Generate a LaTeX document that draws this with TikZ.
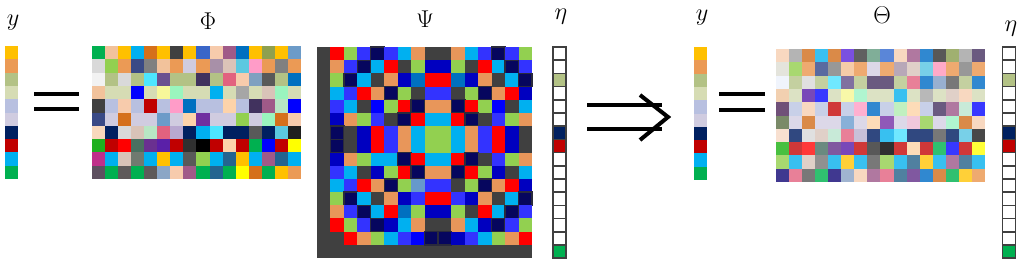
\documentclass[tikz,border=0pt]{standalone}
\usepackage{amsmath, amssymb}
\usepackage{tikz}
\usetikzlibrary{calc}

% colours of the Psi matrix
\definecolor{cR}{HTML}{FF0000}
\definecolor{cG}{HTML}{92D050}
\definecolor{cB}{HTML}{3333FF}
\definecolor{cN}{HTML}{06065E}
\definecolor{cC}{HTML}{00B0F0}
\definecolor{cO}{HTML}{E8965A}
\definecolor{cK}{HTML}{404040}
\definecolor{cD}{HTML}{0000C0}
\definecolor{cM}{HTML}{0070C0}
\definecolor{cP}{HTML}{0000FF}
\definecolor{cS}{HTML}{6699CC}
\definecolor{edge}{HTML}{2A2A3C}

\tikzset{
  psr/.style={fill=cR}, psg/.style={fill=cG}, psb/.style={fill=cB},
  psn/.style={fill=cN, draw=edge, line width=0.04cm},
  psc/.style={fill=cC}, pso/.style={fill=cO}, psk/.style={fill=cK},
  psd/.style={fill=cD}, psm/.style={fill=cM}, psp/.style={fill=cP},
  pss/.style={fill=cS},
  etabox/.style={draw=cK, line width=0.045cm},
  symb/.style={line width=0.12cm},
  lbl/.style={font=\huge}
}

% one row of a matrix: x0, y0, row, hex colours
\newcommand{\hexrow}[4]{%
  \foreach \c [count=\i from 0] in {#4}{
    \definecolor{cc}{HTML}{\c}
    \fill[cc] ({#1+\i*13.06},{#2+#3*13.3}) rectangle ++(13.06,13.3);
  }}
% one row of Psi: row, first column, styles
\newcommand{\psirow}[3]{%
  \foreach \c [count=\i from #2] in {#3}{
    \path[\c] ({317+\i*13.44},{47+#1*13.19}) rectangle ++(13.44,13.19);
  }}

\begin{document}
\begin{tikzpicture}[x=0.03cm, y=-0.03cm]
\useasboundingbox (0,0) rectangle (1024,269);

% labels
\node[lbl] (lbly) at (13,23) {$y$};
\node[lbl] (lblphi) at (208,21) {$\Phi$};
\node[lbl] (lblpsi) at (425,19) {$\Psi$};
\node[lbl] (lbleta) at (561,17) {$\eta$};
\node[lbl] (lbly2) at (702,18) {$y$};
\node[lbl] (lbltheta) at (882,15) {$\Theta$};
\node[lbl] (lbleta2) at (1011,29) {$\eta$};

% y vectors
\foreach \c [count=\r from 0] in {FFC000,EB9A55,B3C285,D6DCB4,B8C0E0,D0CCE0,002060,C00000,00B0F0,00B050}{
  \definecolor{cc}{HTML}{\c}
  \fill[cc] (5,{46+\r*13.3}) rectangle ++(13,13.3);
  \fill[cc] (694,{47+\r*13.3}) rectangle ++(13,13.3);
}

% equal signs
\draw[symb] (34,94) -- (79,94) (34,109) -- (79,109);
\draw[symb] (719,94) -- (765,94) (719,110) -- (765,110);

% Phi
\hexrow{92}{46}{0}{00B050,F2C29B,FFC000,00B0F0,D5701B,FFC000,404040,FFC000,3A66C8,F7CBAC,A05A88,0070C0,FFC000,8EA050,FFC000,6C9BC8}
\hexrow{92}{46}{1}{D9D9D9,92D050,EB9A55,3A4A86,808080,F2C29B,EB9A55,D0CCE0,EB9A55,A890A8,DCC3B8,5BC8E0,FF9CC8,EB9A55,808080,EB9A55}
\hexrow{92}{46}{2}{F2F2F2,B3C285,D9D9D9,B3C285,4DE6FF,6A5090,B3C285,B3C285,41325E,B3C285,E2627F,F7CBAC,7FA0C0,595959,B3C285,0070C0}
\hexrow{92}{46}{3}{F2C29B,D6DCB4,D6DCB4,0000FF,D6DCB4,F7F79A,9AF5BE,D6DCB4,D6DCB4,00B0F0,D6DCB4,A6A6A6,D6DCB4,D9C3B8,9AF5BE,D6DCB4}
\hexrow{92}{46}{4}{404040,B8C0E0,F7CBAC,B8C0E0,C00000,B8C0E0,FF9CC8,0070C0,B8C0E0,B8C0E0,FDD3AA,B8C0E0,41325E,A05A88,B8E6C4,0000FF}
\hexrow{92}{46}{5}{3A4A86,D0CCE0,D5701B,D0CCE0,D0CCE0,6C9BC8,D0CCE0,FDD3AA,7030A0,D0CCE0,D0CCE0,92D050,D0CCE0,9AF5BE,D5701B,F7CBAC}
\hexrow{92}{46}{6}{F8D8BC,002060,D9D9D9,D9C3B8,B8E6C4,E2627F,B8A8D0,002060,00B0F0,4DE6FF,002060,002060,595959,002060,5BC8E0,1F1F1F}
\hexrow{92}{46}{7}{1FB01F,C00000,FF0000,4A7060,6A3090,5A20A8,C00000,303030,000000,C00000,FDD3AA,C00000,00B050,0000FF,C00000,FFFF00}
\hexrow{92}{46}{8}{C0308A,00B0F0,D9C3B8,707A70,00B0F0,FFC000,00B0F0,595959,92D050,00B0F0,246490,FFC000,00B0F0,A05A88,246490,00B0F0}
\hexrow{92}{46}{9}{5E5060,00B050,5E5A5A,00B050,5E5A5A,8BA6C6,F7CBAC,A05A88,00B050,246490,00B050,FFFF00,D5701B,00B050,FFC000,EB9A55}

% Psi
\fill[cK] (317,47) rectangle (532,258);
\psirow{0}{1}{psr,psg,psb,psn,psb,psc,pso,psk,psk,pso,psc,psb,psn,psb,psg}
\psirow{1}{1}{pso,psb,psn,psc,psr,psk,psg,psd,psd,psg,psk,psr,psc,psn,psb}
\psirow{2}{1}{psg,psn,psc,psk,pso,psd,psm,psr,psr,psm,psd,pso,psk,psc,psn}
\psirow{3}{1}{psc,psb,psr,pso,psn,psg,psk,psb,psb,psk,psg,psn,pso,psr,psd}
\psirow{4}{1}{psb,psc,psk,psp,psg,psr,psn,pso,pso,psn,psr,psg,psp,psk,psc}
\psirow{5}{1}{psd,pso,psg,psb,psk,psn,psr,psc,psc,psr,psn,psk,psb,psg,pso}
\psirow{6}{1}{psn,psk,psd,psr,psb,pso,psc,psg,psg,psc,pso,psb,psr,psd,psk}
\psirow{7}{1}{psn,psk,psd,psr,psb,pso,psc,psg,psg,psc,pso,psb,psr,psd,psk}
\psirow{8}{1}{psd,pso,psg,psc,psc,psn,psr,psc,psc,psr,psn,psk,psb,psg,pso}
\psirow{9}{1}{psb,psc,psk,psd,psg,psr,psn,pso,pso,psn,psr,psg,psd,psk,psc}
\psirow{10}{1}{psc,psb,psr,pso,psn,psg,pss,psb,psb,psk,psg,psn,pso,psr,psd}
\psirow{11}{1}{psg,psn,psc,psk,pso,psd,psb,psr,psr,psb,psd,pso,psk,psc,psn}
\psirow{12}{1}{pso,psb,psn,psc,psr,psm,psg,psd,psd,psg,psk,psr,psc,psn,psb}
\psirow{13}{1}{psr,psg,psb,psn,psd,psc,pso,psk,psk,pso,psc,psd,psn,psb,psg}
\psirow{14}{2}{psr,pso,psg,psc,psb,psp,psn,psn,psd,psb,psc,psg,pso,psr}

% eta vectors
\foreach \c [count=\r from 0] in {FFFFFF,FFFFFF,B3C285,FFFFFF,FFFFFF,FFFFFF,002060,C00000,FFFFFF,FFFFFF,FFFFFF,FFFFFF,FFFFFF,FFFFFF,FFFFFF,00B050}{
  \definecolor{cc}{HTML}{\c}
  \filldraw[etabox, fill=cc] (553,{47+\r*13.2}) rectangle ++(13,13.2);
  \filldraw[etabox, fill=cc] (1002.5,{47+\r*13.2}) rectangle ++(13,13.2);
}

% implication arrow
\coordinate (arrS) at (587,105);
\coordinate (arrE) at (668,117);
\draw[symb] (arrS) -- (662,105) (587,129) -- (662,129);
\draw[symb, line join=miter] (640,95) -- (arrE) -- (640,140);

% Theta
\hexrow{776}{49}{0}{F8D8C0,B4B4B4,DA8A48,38C0F0,DA8A48,7A50E0,606060,80AE98,5A86D8,F8D8C0,B078A0,3088D0,585858,A0B070,B4B4B4,6A5A80}
\hexrow{776}{49}{1}{E4E4DC,A8D870,EEAA70,5A6AA0,989898,F5CCA8,EEAA70,DCD8E8,EEAA70,B8A8B8,E0D0C8,78D0E8,FFAAC8,EEAA70,989898,EEAA70}
\hexrow{776}{49}{2}{F0F4FC,C4D0A0,E0E0E0,C4D0A0,70E8FF,8070A0,C4D0A0,6A5A80,6A5A80,C4D0A0,E88098,3088D0,98B0D0,787878,C4D0A0,3088D0}
\hexrow{776}{49}{3}{F2D0B0,DCE2C4,7848B8,3838FF,DCE2C4,F8F8A8,B0F5D0,DCE2C4,DCE2C4,38C0F0,DCE2C4,B8B8B8,DCE2C4,E0D0C8,F8D8C0,DCE2C4}
\hexrow{776}{49}{4}{705078,C8D0E8,F8D8C0,C8D0E8,D03838,C8D0E8,FFB0D0,3088D0,C8D0E8,C0F0C0,FDDCB8,C8D0E8,6A5A80,B078A0,C8EAD8,3838FF}
\hexrow{776}{49}{5}{7A8A68,DCD8E8,DA8A48,DCD8E8,DCD8E8,88B0D8,DCD8E8,FDDCB8,9058B8,DCD8E8,F0C8DC,A8D870,DCD8E8,B0F5D0,DA8A48,F8D8C0}
\hexrow{776}{49}{6}{F8E0D0,304880,E0E0E0,E0D0C8,C8EAD8,E88098,C8C0D8,304880,38C0F0,70E8FF,304880,304880,787878,304880,78D0E8,484848}
\hexrow{776}{49}{7}{48C040,D03838,FF3838,6A8A80,8058A0,7848B8,D03838,585858,303030,D03838,FDDCB8,D03838,30C070,3838FF,D03838,FFFF38}
\hexrow{776}{49}{8}{A8D870,38C0F0,E0D0C8,909090,38C0F0,FFD038,38C0F0,787878,A8D870,38C0F0,5080A0,FFD038,38C0F0,B078A0,5080A0,38C0F0}
\hexrow{776}{49}{9}{403890,E88098,787878,30C070,403890,A0B4D0,F8D8C0,B078A0,E88098,5080A0,8058A0,3088D0,DA8A48,30C070,FFD038,EEAA70}
\end{tikzpicture}
\end{document}
